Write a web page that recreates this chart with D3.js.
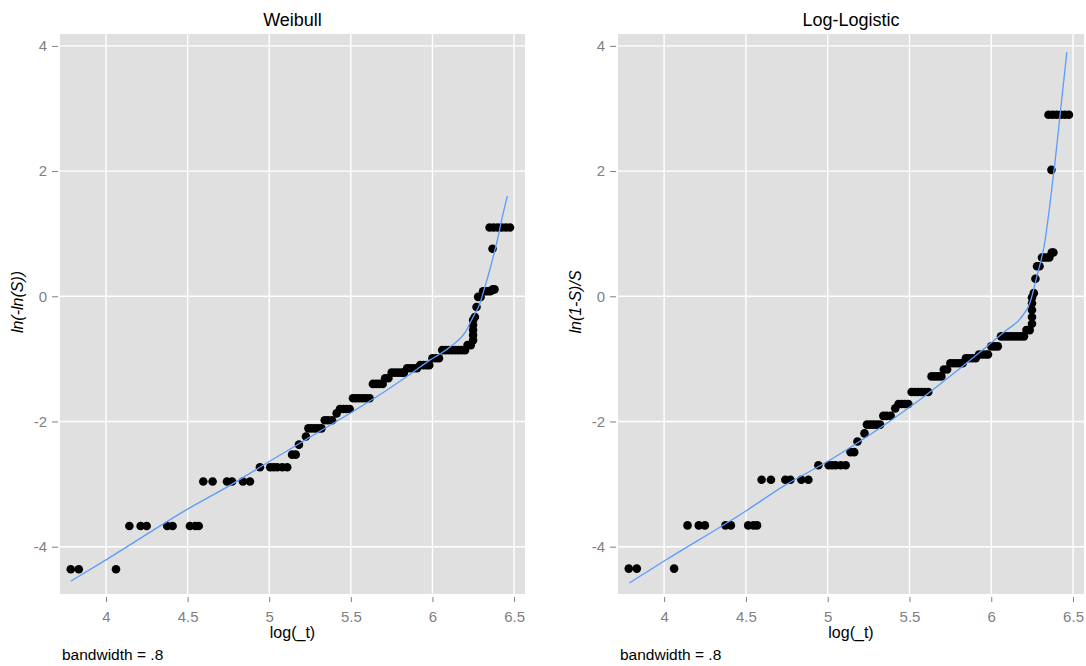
<!DOCTYPE html>
<html>
<head>
<meta charset="utf-8">
<script src="https://cdn.jsdelivr.net/npm/d3@7"></script>
<style>
  body { margin: 0; background: #fff; }
  text { font-family: "Liberation Sans", Arial, sans-serif; }
</style>
</head>
<body>
<div id="chart"></div>
<script>
// observed log times, shared by both panels
var logT = [
  3.784, 3.833, 4.061,
  4.143, 4.212, 4.249, 4.375, 4.408, 4.514, 4.547, 4.568,
  4.596, 4.653, 4.741, 4.772, 4.839, 4.882,
  4.943, 5.006, 5.027, 5.049, 5.080, 5.110,
  5.140, 5.162,
  5.182,
  5.225,
  5.240, 5.260, 5.280, 5.300, 5.320,
  5.340, 5.360, 5.385,
  5.413,
  5.433, 5.453, 5.473, 5.493,
  5.513, 5.533, 5.553, 5.573, 5.593, 5.615,
  5.635, 5.655, 5.675, 5.695,
  5.710, 5.730,
  5.750, 5.770, 5.790, 5.810, 5.825,
  5.845, 5.865, 5.885, 5.905,
  5.925, 5.945, 5.965, 5.980,
  6.000, 6.020, 6.040,
  6.060, 6.080, 6.100, 6.120, 6.140, 6.160, 6.180, 6.200,
  6.215, 6.235,
  6.249, 6.249, 6.249, 6.249, 6.249,
  6.260, 6.270,
  6.280, 6.295,
  6.310, 6.325, 6.340, 6.355, 6.370, 6.380,
  6.368,
  6.350, 6.375, 6.400, 6.425, 6.450, 6.475
];

// ln(-ln(S))
var weibullY = [
  -4.36, -4.36, -4.36,
  -3.67, -3.67, -3.67, -3.67, -3.67, -3.67, -3.67, -3.67,
  -2.96, -2.96, -2.96, -2.96, -2.96, -2.96,
  -2.73, -2.73, -2.73, -2.73, -2.73, -2.73,
  -2.53, -2.53,
  -2.37,
  -2.24,
  -2.11, -2.11, -2.11, -2.11, -2.11,
  -1.98, -1.98, -1.98,
  -1.87,
  -1.80, -1.80, -1.80, -1.80,
  -1.63, -1.63, -1.63, -1.63, -1.63, -1.63,
  -1.40, -1.40, -1.40, -1.40,
  -1.31, -1.31,
  -1.22, -1.22, -1.22, -1.22, -1.22,
  -1.15, -1.15, -1.15, -1.15,
  -1.10, -1.10, -1.10, -1.10,
  -0.99, -0.99, -0.99,
  -0.86, -0.86, -0.86, -0.86, -0.86, -0.86, -0.86, -0.86,
  -0.78, -0.78,
  -0.70, -0.62, -0.54, -0.46, -0.38,
  -0.33, -0.17,
  -0.01, -0.01,
  0.08, 0.08, 0.08, 0.08, 0.11, 0.11,
  0.76,
  1.10, 1.10, 1.10, 1.10, 1.10, 1.10
];

// ln((1-S)/S)
var logLogY = [
  -4.35, -4.35, -4.35,
  -3.66, -3.66, -3.66, -3.66, -3.66, -3.66, -3.66, -3.66,
  -2.93, -2.93, -2.93, -2.93, -2.93, -2.93,
  -2.70, -2.70, -2.70, -2.70, -2.70, -2.70,
  -2.49, -2.49,
  -2.32,
  -2.19,
  -2.05, -2.05, -2.05, -2.05, -2.05,
  -1.91, -1.91, -1.91,
  -1.79,
  -1.72, -1.72, -1.72, -1.72,
  -1.53, -1.53, -1.53, -1.53, -1.53, -1.53,
  -1.28, -1.28, -1.28, -1.28,
  -1.17, -1.17,
  -1.07, -1.07, -1.07, -1.07, -1.07,
  -0.99, -0.99, -0.99, -0.99,
  -0.93, -0.93, -0.93, -0.93,
  -0.80, -0.80, -0.80,
  -0.64, -0.64, -0.64, -0.64, -0.64, -0.64, -0.64, -0.64,
  -0.54, -0.54,
  -0.44, -0.33, -0.22, -0.11, -0.02,
  0.05, 0.28,
  0.48, 0.48,
  0.62, 0.62, 0.62, 0.62, 0.70, 0.70,
  2.02,
  2.90, 2.90, 2.90, 2.90, 2.90, 2.90
];

// lowess smooths (bandwidth .8)
var weibullFitX = [3.784, 4.0, 4.5, 4.759, 5.0, 5.25, 5.5, 5.708, 5.85, 5.984, 6.107, 6.209, 6.249, 6.29, 6.321, 6.351, 6.372, 6.402, 6.423, 6.459];
var weibullFitY = [-4.55, -4.21, -3.40, -3.02, -2.64, -2.25, -1.86, -1.52, -1.27, -1.02, -0.81, -0.54, -0.33, -0.12, 0.15, 0.42, 0.63, 0.95, 1.21, 1.60];

var logLogFitX = [3.787, 4.0, 4.5, 4.725, 5.012, 5.502, 5.992, 6.094, 6.176, 6.237, 6.278, 6.329, 6.36, 6.39, 6.421, 6.462];
var logLogFitY = [-4.58, -4.23, -3.43, -3.04, -2.62, -1.77, -0.76, -0.54, -0.36, -0.10, 0.31, 0.89, 1.50, 2.15, 2.90, 3.90];

var xTicks = [4, 4.5, 5, 5.5, 6, 6.5];
var yTicks = [-4, -2, 0, 2, 4];

var width = 1086, height = 666;

var svg = d3.select('#chart').append('svg')
  .attr('width', width)
  .attr('height', height);

var y = d3.scaleLinear()
  .domain([-4.756, 4.19])
  .range([594, 34]);

function drawPanel(left, right, title, yLabel, ys, fitX, fitY) {
  var x = d3.scaleLinear()
    .domain([3.718, 6.567])
    .range([left, right]);

  var g = svg.append('g');

  g.append('rect')
    .attr('x', left)
    .attr('y', 34)
    .attr('width', right - left)
    .attr('height', 560)
    .attr('fill', '#e0e0e0');

  // grid
  g.selectAll('.gx').data(xTicks).enter().append('line')
    .attr('x1', function (d) { return x(d); })
    .attr('x2', function (d) { return x(d); })
    .attr('y1', 34).attr('y2', 594)
    .attr('stroke', '#fff').attr('stroke-width', 1.4);
  g.selectAll('.gy').data(yTicks).enter().append('line')
    .attr('x1', left).attr('x2', right)
    .attr('y1', function (d) { return y(d); })
    .attr('y2', function (d) { return y(d); })
    .attr('stroke', '#fff').attr('stroke-width', 1.4);

  var xAxis = d3.axisBottom(x)
    .tickValues(xTicks)
    .tickFormat(function (d) { return String(d); })
    .tickSize(5)
    .tickPadding(9)
    .tickSizeOuter(0);
  var gx = g.append('g')
    .attr('transform', 'translate(0,597)')
    .call(xAxis);

  var yAxis = d3.axisLeft(y)
    .tickValues(yTicks)
    .tickFormat(function (d) { return String(d); })
    .tickSize(6)
    .tickPadding(5)
    .tickSizeOuter(0);
  var gy = g.append('g')
    .attr('transform', 'translate(' + (left - 2) + ',0)')
    .call(yAxis);

  [gx, gy].forEach(function (a) {
    a.select('.domain').remove();
    a.selectAll('line').attr('stroke', '#7f7f7f');
    a.selectAll('text')
      .attr('fill', '#7f7f7f')
      .style('font-size', '15px')
      .style('font-family', '"Liberation Sans", Arial, sans-serif');
  });

  // points
  g.selectAll('.pt').data(logT).enter().append('circle')
    .attr('cx', function (d) { return x(d); })
    .attr('cy', function (d, i) { return y(ys[i]); })
    .attr('r', 4.3)
    .attr('fill', '#000');

  // lowess line
  var line = d3.line()
    .x(function (d, i) { return x(fitX[i]); })
    .y(function (d) { return y(d); })
    .curve(d3.curveMonotoneX);
  g.append('path')
    .attr('d', line(fitY))
    .attr('fill', 'none')
    .attr('stroke', '#5b9cfa')
    .attr('stroke-width', 1.3);

  var cx = (left + right) / 2;
  g.append('text')
    .attr('x', cx).attr('y', 26)
    .attr('text-anchor', 'middle')
    .style('font-size', '18px')
    .text(title);

  g.append('text')
    .attr('x', cx).attr('y', 638)
    .attr('text-anchor', 'middle')
    .style('font-size', '16px')
    .text('log(_t)');

  g.append('text')
    .attr('transform', 'translate(' + (left - 37) + ',302) rotate(-90)')
    .attr('text-anchor', 'middle')
    .style('font-size', '16px')
    .style('font-style', 'italic')
    .text(yLabel);

  g.append('text')
    .attr('x', left + 2).attr('y', 660)
    .style('font-size', '15.5px')
    .text('bandwidth = .8');
}

drawPanel(60, 525, 'Weibull', 'ln(-ln(S))', weibullY, weibullFitX, weibullFitY);
drawPanel(618, 1084, 'Log-Logistic', 'ln(1-S)/S', logLogY, logLogFitX, logLogFitY);
</script>
</body>
</html>
